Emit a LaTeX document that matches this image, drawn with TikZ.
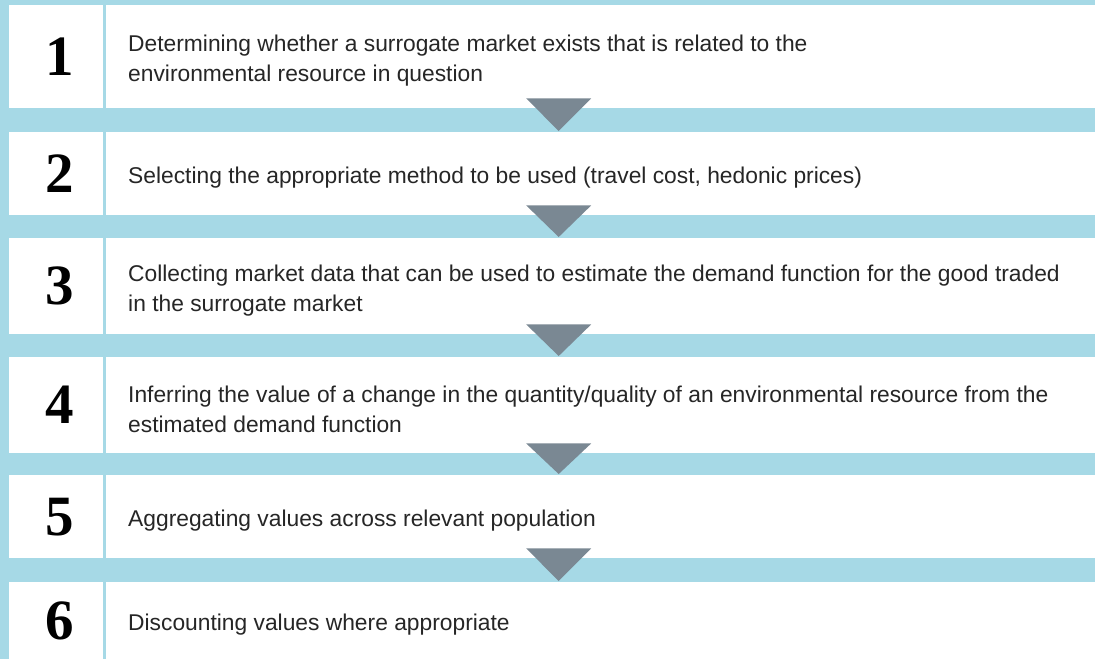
\documentclass[tikz,border=0pt]{standalone}
\usepackage{fontspec}
\setmainfont{Liberation Sans}
\newfontfamily\numfont{Liberation Serif}
\usetikzlibrary{positioning}
\definecolor{bandblue}{RGB}{166,217,230}
\definecolor{arrowgray}{RGB}{122,136,147}
\definecolor{textgray}{RGB}{38,38,38}

\begin{document}
\begin{tikzpicture}
[x=1pt,y=-1pt,
  numBox/.style={anchor=north west,fill=white,minimum width=94pt,inner sep=0pt,%
    font=\numfont\fontsize{57}{57}\selectfont\bfseries},
  textBox/.style={anchor=north west,fill=white,minimum width=989pt,inner sep=0pt},
  stepText/.style={anchor=west,align=left,inner sep=0pt,text=textgray,%
    font=\fontsize{22.8}{30}\selectfont},
  arrowDecorate/.style={fill=arrowgray}]
%% background band
\useasboundingbox (0,0) rectangle (1095,659);
\fill[bandblue] (0,0) rectangle (1095,659);
%% rows: number box, text box, step text
\foreach \i/\top/\h/\txt in {
  1/5/103/{Determining whether a surrogate market exists that is related to the\\environmental resource in question},
  2/132/83/{Selecting the appropriate method to be used (travel cost, hedonic prices)},
  3/238/96/{Collecting market data that can be used to estimate the demand function for the good traded\\in the surrogate market},
  4/357/96/{Inferring the value of a change in the quantity/quality of an environmental resource from the\\estimated demand function},
  5/475/83/{Aggregating values across relevant population},
  6/582/77/{Discounting values where appropriate}} {
  \node[numBox,minimum height=\h pt] (n\i) at (9,\top) {\hspace*{8pt}\i};
  \node[textBox,minimum height=\h pt] (t\i) at (106,\top) {};
  \node[stepText] (s\i) at ([xshift=22pt,yshift=-4pt]t\i.west) {\txt};
}
%% arrows between rows
\foreach \i/\j in {1/2, 2/3, 3/4, 4/5, 5/6} {
  \fill[arrowDecorate] ([xshift=-74.5pt,yshift=10pt]t\i.south)
    -- ([xshift=-9.5pt,yshift=10pt]t\i.south)
    -- ([xshift=-42pt,yshift=1pt]t\j.north) -- cycle;
}
\end{tikzpicture}
\end{document}
